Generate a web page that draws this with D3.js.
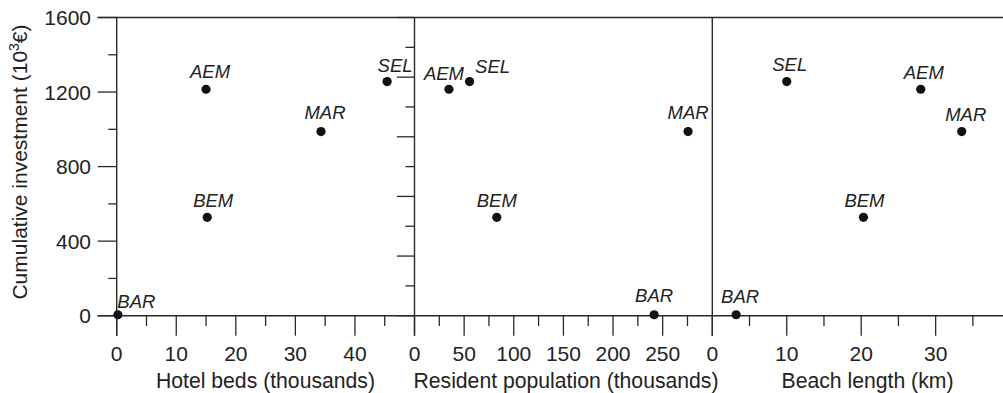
<!DOCTYPE html>
<html><head><meta charset="utf-8">
<script src="https://cdn.jsdelivr.net/npm/d3@7"></script>
<style>body{margin:0;background:#fff;overflow:hidden}svg{display:block;font-family:"Liberation Sans",Arial,sans-serif}</style>
</head><body><svg id="c" width="1003" height="393"></svg>
<script>
// ---- data ----
const sites = ["AEM", "SEL", "MAR", "BEM", "BAR"];
const investment = [1215, 1256, 988, 528, 5];
const hotelBeds = [15.0, 45.4, 34.3, 15.2, 0.2];
const population = [34.7, 55.5, 275.6, 82.9, 241.4];
const beachLength = [28.0, 10.0, 33.5, 20.3, 3.2];

const yTicksMajor = [0, 400, 800, 1200, 1600];
const yTicksMinor = [200, 600, 1000, 1400];
const sideTicksMajor = [0, 320, 640, 960, 1280, 1600];
const sideTicksMinor = [160, 480, 800, 1120, 1440];

const hotelTicks = [0, 10, 20, 30, 40];
const hotelMinor = [5, 15, 25, 35, 45];
const popTicks = [0, 50, 100, 150, 200, 250];
const popMinor = [25, 75, 125, 175, 225, 275];
const beachTicks = [0, 10, 20, 30];
const beachMinor = [5, 15, 25, 35];

const xTitles = ["Hotel beds (thousands)", "Resident population (thousands)", "Beach length (km)"];
const yTitleParts = ["Cumulative investment (10", "3", "€)"];

// ---- layout ----
const svg = d3.select("#c");
const yTop = 17.5, yBase = 315.7, left0 = 116.7, pw = 297.8;
const ink = "#222", lineC = "#2a2a2a";
const y = d3.scaleLinear().domain([0, 1600]).range([yBase, yTop]);

const panels = [
  { xs: hotelBeds, domain: [0, 50], ticks: hotelTicks, minor: hotelMinor, title: xTitles[0], titleX: 265.5,
    off: [[4, -11.3], [8, -10], [4, -12.5], [6, -10.6], [18.5, -7]] },
  { xs: population, domain: [0, 300], ticks: popTicks, minor: popMinor, title: xTitles[1], titleX: 566,
    off: [[-5, -9.3], [23, -9], [0, -12.7], [0, -10.6], [0, -13]] },
  { xs: beachLength, domain: [0, 40], ticks: beachTicks, minor: beachMinor, title: xTitles[2], titleX: 867.5,
    off: [[3, -10.3], [3, -11], [4, -11], [1, -10.6], [4, -11.7]] }
];

svg.append("line").attr("x1", 97.7).attr("x2", 1003).attr("y1", yTop).attr("y2", yTop)
  .attr("stroke", lineC).attr("stroke-width", 1.4);
svg.append("line").attr("x1", 97.7).attr("x2", 1003).attr("y1", yBase).attr("y2", yBase)
  .attr("stroke", lineC).attr("stroke-width", 1.4);

const g0 = svg.append("g");
yTicksMajor.forEach(v => {
  g0.append("line").attr("x1", 97.7).attr("x2", left0).attr("y1", y(v)).attr("y2", y(v))
    .attr("stroke", lineC).attr("stroke-width", 1.3);
  g0.append("text").attr("x", 91).attr("y", y(v)).attr("dy", "0.36em").attr("text-anchor", "end")
    .attr("font-size", 21).attr("fill", ink).text(v);
});
yTicksMinor.forEach(v => {
  g0.append("line").attr("x1", 108.3).attr("x2", left0).attr("y1", y(v)).attr("y2", y(v))
    .attr("stroke", lineC).attr("stroke-width", 1.3);
});
const yt = svg.append("text").attr("transform", `translate(26.7,162) rotate(-90)`)
  .attr("text-anchor", "middle").attr("font-size", 21).attr("fill", ink);
yt.append("tspan").text(yTitleParts[0]);
yt.append("tspan").attr("font-size", 14).attr("dy", -8).text(yTitleParts[1]);
yt.append("tspan").attr("dy", 8).text(yTitleParts[2]);

panels.forEach((p, i) => {
  const x0 = left0 + i * pw;
  const x = d3.scaleLinear().domain(p.domain).range([x0, x0 + pw]);
  const g = svg.append("g");
  g.append("line").attr("x1", x0).attr("x2", x0).attr("y1", yTop).attr("y2", yBase + 20)
    .attr("stroke", lineC).attr("stroke-width", 1.4);
  if (i === 1) {
    sideTicksMajor.forEach(v => g.append("line").attr("x1", x0 - 17.6).attr("x2", x0)
      .attr("y1", y(v)).attr("y2", y(v)).attr("stroke", lineC).attr("stroke-width", 1.3));
    sideTicksMinor.forEach(v => g.append("line").attr("x1", x0 - 9).attr("x2", x0)
      .attr("y1", y(v)).attr("y2", y(v)).attr("stroke", lineC).attr("stroke-width", 1.3));
  }
  p.ticks.forEach(v => {
    g.append("line").attr("x1", x(v)).attr("x2", x(v)).attr("y1", yBase).attr("y2", yBase + 20)
      .attr("stroke", lineC).attr("stroke-width", 1.3);
    g.append("text").attr("x", x(v)).attr("y", 361).attr("text-anchor", "middle")
      .attr("font-size", 21).attr("fill", ink).text(v);
  });
  p.minor.forEach(v => {
    g.append("line").attr("x1", x(v)).attr("x2", x(v)).attr("y1", yBase).attr("y2", yBase + 10.3)
      .attr("stroke", lineC).attr("stroke-width", 1.3);
  });
  g.append("text").attr("x", p.titleX).attr("y", 388).attr("text-anchor", "middle")
    .attr("font-size", 21.2).attr("fill", ink).text(p.title);
  sites.forEach((s, k) => {
    const cx = x(p.xs[k]), cy = y(investment[k]);
    g.append("circle").attr("cx", cx).attr("cy", cy).attr("r", 4.6).attr("fill", "#111");
    g.append("text").attr("x", cx + p.off[k][0]).attr("y", cy + p.off[k][1])
      .attr("text-anchor", "middle").attr("font-style", "italic").attr("font-size", 18.5)
      .attr("fill", ink).text(s);
  });
});
</script></body></html>
